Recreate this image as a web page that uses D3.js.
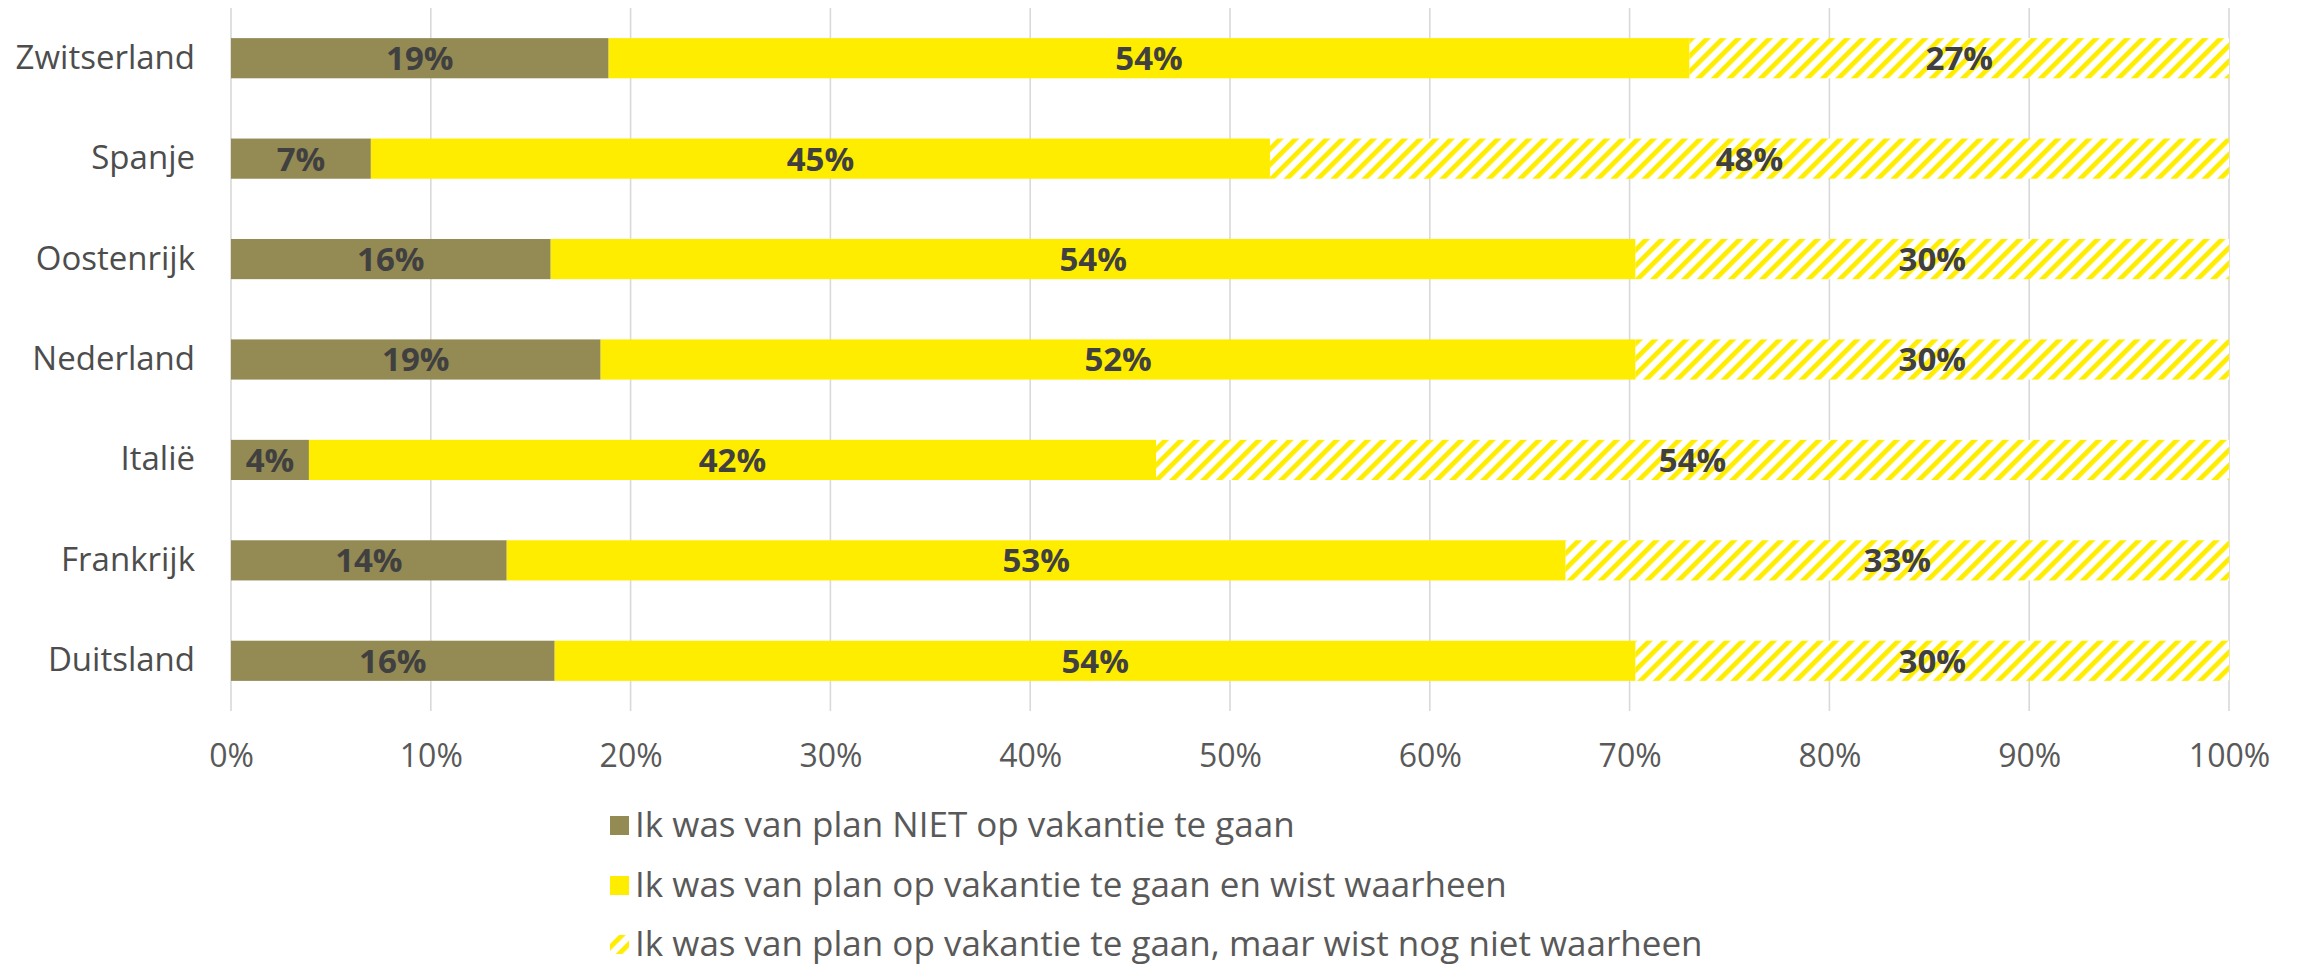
<!DOCTYPE html>
<html>
<head>
<meta charset="utf-8">
<script src="https://cdn.jsdelivr.net/npm/d3@7"></script>
<style>
  html, body { margin: 0; padding: 0; background: #ffffff; }
  svg { display: block; }
</style>
</head>
<body>
<svg id="chart" width="2300" height="967"></svg>
<script>
// ---- data ----
const categories = ["Zwitserland", "Spanje", "Oostenrijk", "Nederland", "Italië", "Frankrijk", "Duitsland"];
const seriesNames = [
  "Ik was van plan NIET op vakantie te gaan",
  "Ik was van plan op vakantie te gaan en wist waarheen",
  "Ik was van plan op vakantie te gaan, maar wist nog niet waarheen"
];
const nietOpVakantie = [18.9, 7.0, 16.0, 18.5, 3.9, 13.8, 16.2];
const wistWaarheen = [54.1, 45.0, 54.3, 51.8, 42.4, 53.0, 54.1];
const wistNietWaarheen = [27.0, 48.0, 29.7, 29.7, 53.7, 33.2, 29.7];
const xTicks = [0, 10, 20, 30, 40, 50, 60, 70, 80, 90, 100];

// ---- setup ----
const svg = d3.select("#chart");
const FONT = "'Open Sans', 'Noto Sans', sans-serif";
const olive = "#948A54", yellow = "#FFED00";

const defs = svg.append("defs");
const pat = defs.append("pattern")
  .attr("id", "hatch")
  .attr("patternUnits", "userSpaceOnUse")
  .attr("width", 11).attr("height", 11)
  .attr("patternTransform", "rotate(45)");
pat.append("rect").attr("width", 11).attr("height", 11).attr("fill", "#ffffff");
pat.append("rect").attr("width", 4.8).attr("height", 11).attr("fill", yellow);

const x = d3.scaleLinear().domain([0, 100]).range([231, 2229]);
const y = d3.scaleBand().domain(categories).range([8, 711]).paddingInner(0.6).paddingOuter(0.3);

// gridlines
svg.append("g").selectAll("line").data(xTicks).join("line")
  .attr("x1", d => x(d)).attr("x2", d => x(d))
  .attr("y1", 8).attr("y2", 711)
  .attr("stroke", "#d9d9d9").attr("stroke-width", 1.6);

// stacked data
const rows = categories.map((c, i) => ({
  cat: c, vals: [nietOpVakantie[i], wistWaarheen[i], wistNietWaarheen[i]]
}));
const fills = [olive, yellow, "url(#hatch)"];

const segs = [];
rows.forEach(r => {
  let acc = 0;
  r.vals.forEach((v, k) => {
    segs.push({ cat: r.cat, k, x0: acc, x1: acc + v, v });
    acc += v;
  });
});

svg.append("g").selectAll("rect").data(segs).join("rect")
  .attr("x", d => x(d.x0))
  .attr("width", d => x(d.x1) - x(d.x0))
  .attr("y", d => y(d.cat))
  .attr("height", y.bandwidth())
  .attr("fill", d => fills[d.k]);

// data labels
svg.append("g").selectAll("text").data(segs).join("text")
  .attr("x", d => x((d.x0 + d.x1) / 2))
  .attr("y", d => y(d.cat) + y.bandwidth() / 2)
  .attr("dy", "0.36em")
  .attr("text-anchor", "middle")
  .attr("font-family", FONT)
  .attr("font-weight", 700)
  .attr("font-size", 33)
  .attr("fill", "#404040")
  .text(d => Math.round(d.v) + "%");

// x axis
const xAxis = d3.axisBottom(x).tickValues(xTicks).tickSize(0).tickPadding(33)
  .tickFormat(d => d + "%");
const gx = svg.append("g").attr("transform", "translate(0,711)").call(xAxis);
gx.select(".domain").remove();
gx.selectAll("text").attr("font-family", FONT).attr("font-size", 32).attr("fill", "#595959");

// y axis
const yAxis = d3.axisLeft(y).tickSize(0).tickPadding(36);
const gy = svg.append("g").attr("transform", "translate(231,0)").call(yAxis);
gy.select(".domain").remove();
gy.selectAll("text").attr("font-family", FONT).attr("font-size", 33).attr("fill", "#4d4d4d");

// legend
const legendY = [825, 885, 944];
const lg = svg.append("g").selectAll("g").data(seriesNames).join("g")
  .attr("transform", (d, i) => `translate(610,${legendY[i]})`);
lg.append("rect").attr("x", 0).attr("y", -9).attr("width", 19).attr("height", 19)
  .attr("fill", (d, i) => fills[i]);
lg.append("text").attr("x", 25).attr("y", 0).attr("dy", "0.35em")
  .attr("font-family", FONT).attr("font-size", 35).attr("fill", "#595959")
  .text(d => d);
</script>
</body>
</html>
